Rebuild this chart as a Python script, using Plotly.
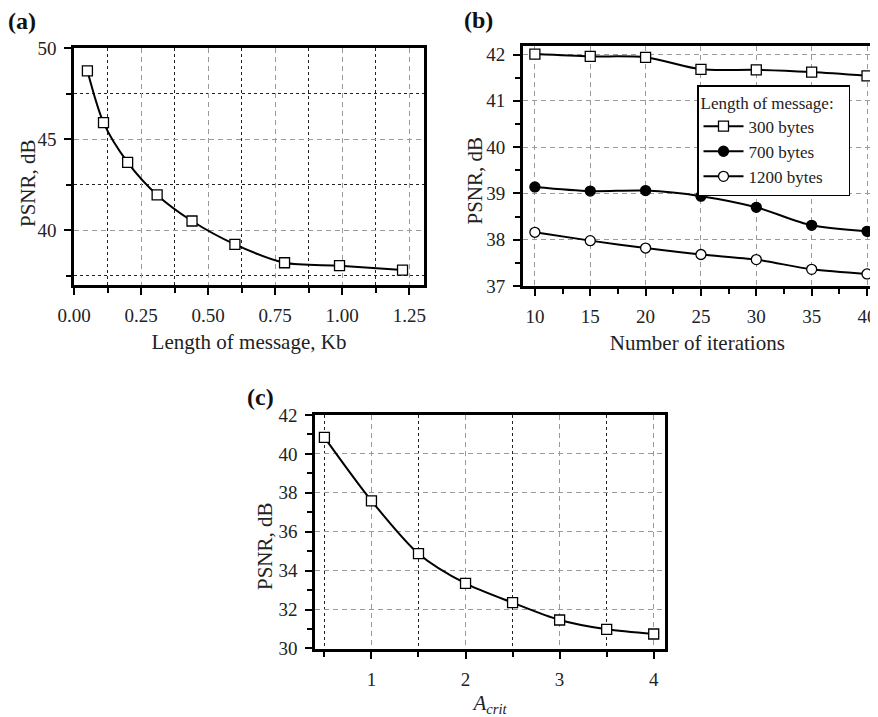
import plotly.graph_objects as go

# page body has an 8px default margin: draw the figure 8px smaller and
# place everything in reference-pixel coordinates shifted by that margin
OFF = 8
W, H = 878 - OFF, 717 - OFF

# ---------------- data ----------------
# (a) PSNR vs message length
a_len_kb = [0.05, 0.11, 0.20, 0.31, 0.44, 0.60, 0.785, 0.99, 1.225]
a_psnr = [48.75, 45.91, 43.73, 41.94, 40.51, 39.23, 38.22, 38.06, 37.82]

# (b) PSNR vs number of iterations
b_iter = [10, 15, 20, 25, 30, 35, 40]
b_300 = [42.01, 41.96, 41.94, 41.68, 41.67, 41.62, 41.54]
b_700 = [39.14, 39.05, 39.06, 38.94, 38.70, 38.31, 38.18]
b_1200 = [38.16, 37.98, 37.82, 37.68, 37.57, 37.36, 37.26]
b_names = ["300 bytes", "700 bytes", "1200 bytes"]

# (c) PSNR vs A_crit
c_acrit = [0.5, 1.0, 1.5, 2.0, 2.5, 3.0, 3.5, 4.0]
c_psnr = [40.85, 37.59, 34.87, 33.34, 32.35, 31.46, 30.98, 30.74]

FONT = "Liberation Serif, Times New Roman, serif"
TICK = 19
TITLE = 21
GRID = "#9a9a9a"
MGRID = "#222222"
GDASH = "5px,4px"
MDASH = "3px,3px"

def px(x):
    return (x - OFF) / W

def py(y):
    return 1 - (y - OFF) / H

fig = go.Figure()

sq = dict(symbol="square", size=10, color="white", line=dict(width=1.3, color="black"))
line = dict(color="black", width=2, shape="spline", smoothing=0.8)

fig.add_trace(go.Scatter(x=a_len_kb, y=a_psnr, mode="lines+markers", line=line,
                         marker=sq, xaxis="x", yaxis="y", showlegend=False))

fig.add_trace(go.Scatter(x=b_iter, y=b_300, mode="lines+markers", line=line, name=b_names[0],
                         marker=sq, xaxis="x2", yaxis="y2"))
fig.add_trace(go.Scatter(x=b_iter, y=b_700, mode="lines+markers", line=line, name=b_names[1],
                         marker=dict(symbol="circle", size=10, color="black",
                                     line=dict(width=1.3, color="black")),
                         xaxis="x2", yaxis="y2"))
fig.add_trace(go.Scatter(x=b_iter, y=b_1200, mode="lines+markers", line=line, name=b_names[2],
                         marker=dict(symbol="circle", size=10, color="white",
                                     line=dict(width=1.3, color="black")),
                         xaxis="x2", yaxis="y2"))

fig.add_trace(go.Scatter(x=c_acrit, y=c_psnr, mode="lines+markers", line=line,
                         marker=sq, xaxis="x3", yaxis="y3", showlegend=False))

common = dict(
    showline=True, linewidth=2.5, linecolor="black", mirror=True,
    ticks="outside", ticklen=7, tickwidth=2, tickcolor="black",
    tickfont=dict(family=FONT, size=TICK, color="#222"),
    zeroline=False, automargin=False,
    showgrid=True, gridcolor=GRID, griddash=GDASH, gridwidth=1,
    ticklabelstandoff=4,
)

def ax(**kw):
    d = dict(common)
    d.update(kw)
    return d

def title(t, standoff):
    return dict(text=t, font=dict(family=FONT, size=TITLE, color="#222"), standoff=standoff)

def minor(dt, grid):
    m = dict(dtick=dt, tick0=0, ticks="outside", ticklen=5, tickwidth=2, tickcolor="black",
             showgrid=grid)
    if grid:
        m.update(gridcolor=MGRID, griddash=MDASH, gridwidth=1)
    return m

fig.update_layout(
    template="none",
    width=W, height=H,
    margin=dict(l=0, r=0, t=0, b=0, autoexpand=False),
    paper_bgcolor="white", plot_bgcolor="white",
    font=dict(family=FONT, size=TICK, color="#222"),
    # ---- (a)
    xaxis=ax(domain=[px(74), px(424)], range=[0, 1.305], tick0=0, dtick=0.25,
             tickformat=".2f", anchor="y", minor=minor(0.125, True),
             title=title("Length of message, Kb", 10)),
    yaxis=ax(domain=[py(285), py(48)], range=[37, 50], tick0=0, dtick=5, anchor="x",
             minor=minor(2.5, True)),
    # ---- (b)
    xaxis2=ax(domain=[px(522.7), px(872)], range=[8.9, 40.45], tick0=0, dtick=5, anchor="y2",
              minor=minor(2.5, False),
              title=title("Number of iterations", 10)),
    yaxis2=ax(domain=[py(286), py(45.7)], range=[37, 42.19], tick0=0, dtick=1, anchor="x2",
              minor=minor(0.5, False)),
    # ---- (c)
    xaxis3=ax(domain=[px(315), px(665)], range=[0.4, 4.12], tick0=0, dtick=1, anchor="y3",
              minor=minor(0.5, True),
              title=title("<i>A</i><sub><i>crit</i></sub>", 13)),
    yaxis3=ax(domain=[py(649), py(415)], range=[29.97, 42], tick0=0, dtick=2, anchor="x3",
              minor=minor(1, False)),
    legend=dict(
        x=px(697), y=py(85), xanchor="left", yanchor="top",
        bgcolor="white", bordercolor="black", borderwidth=1.5,
        font=dict(family=FONT, size=17, color="#222"),
        title=dict(text="Length of message:&nbsp;&nbsp;&nbsp;",
                   font=dict(family=FONT, size=17, color="#222"), side="top"),
        tracegroupgap=0, itemwidth=40,
    ),
    showlegend=True,
)

# y-axis titles (placed as in the reference, slightly below axis centre)
for x, y in [(28.5, 183.5), (474.5, 181), (264.5, 546.5)]:
    fig.add_annotation(text="PSNR, dB", x=px(x), y=py(y), xref="paper", yref="paper",
                       xanchor="center", yanchor="middle", textangle=-90, showarrow=False,
                       font=dict(family=FONT, size=TITLE, color="#222"))

for label, x, y in [("(a)", 7, 21), ("(b)", 463, 20), ("(c)", 246, 397)]:
    fig.add_annotation(text=f"<b>{label}</b>", x=px(x), y=py(y), xref="paper", yref="paper",
                       xanchor="left", yanchor="middle", showarrow=False, borderpad=0,
                       font=dict(family=FONT, size=24, color="#111"))

fig.write_html("out.html")
